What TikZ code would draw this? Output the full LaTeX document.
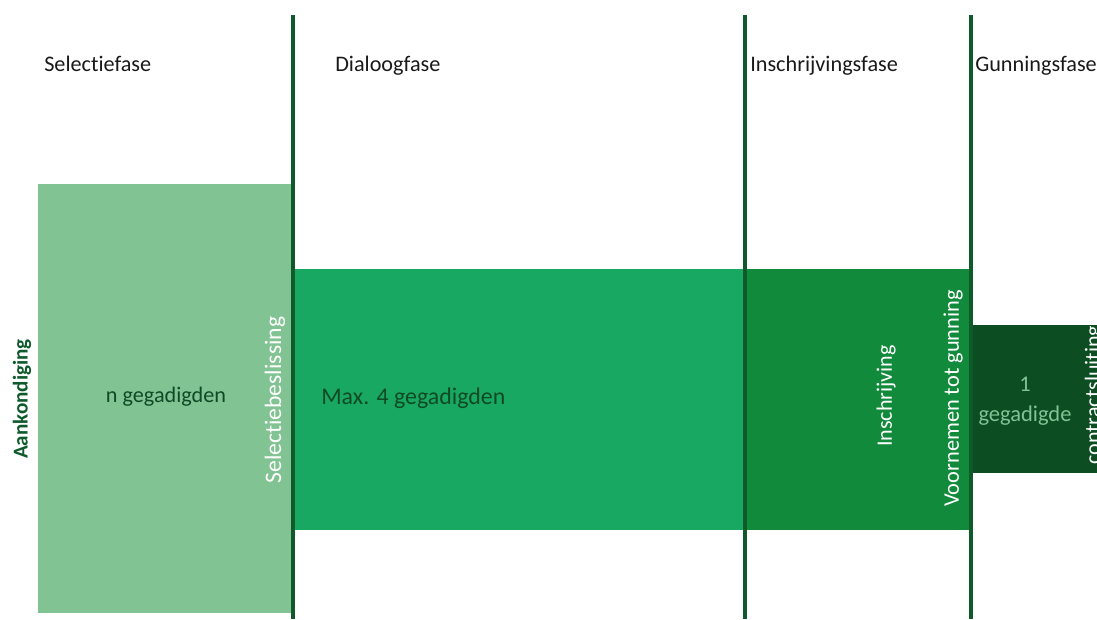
\documentclass[tikz,border=0pt]{standalone}
\usepackage{fontspec}
\setmainfont{Carlito}[Ligatures=NoCommon]
\usetikzlibrary{positioning}
\definecolor{lichtgroen}{HTML}{81C393}
\definecolor{middengroen}{HTML}{19A862}
\definecolor{inschrgroen}{HTML}{128A3C}
\definecolor{donkergroen}{HTML}{0C4E22}
\definecolor{lijngroen}{HTML}{0E5A2B}
\definecolor{tekstgroen}{HTML}{0F4A25}
\tikzset{fasetitel/.style={anchor=base west, font=\fontsize{15.8}{19}\selectfont, text=black!90, inner sep=0pt},
  grens/.style={draw=lijngroen, line width=2.2pt},
  dwars/.style={rotate=90, text=white, font=\fontsize{15.7}{18}\selectfont, inner sep=0pt},
  aantal/.style={text=tekstgroen, inner sep=0pt},
}

\begin{document}
\begin{tikzpicture}[x=0.025cm,y=-0.025cm]
    \useasboundingbox (0,0) rectangle (1097,619);
    % blokken per fase
    \fill[lichtgroen] (38,184) rectangle (293,613);
    \fill[middengroen] (293,269) rectangle (745,530);
    \fill[inschrgroen] (745,269) rectangle (971,530);
    \fill[donkergroen] (971,325) rectangle (1097,473);

    % fasegrenzen
    \coordinate (g1top) at (293,15);
    \coordinate (g1bot) at (293,619);
    \coordinate (g2top) at (745,15);
    \coordinate (g2bot) at (745,619);
    \coordinate (g3top) at (971,15);
    \coordinate (g3bot) at (971,619);
    \draw[grens] (g1top) -- (g1bot);
    \draw[grens] (g2top) -- (g2bot);
    \draw[grens] (g3top) -- (g3bot);

    \node[fasetitel] (selectie) at (44,71) {Selectiefase};
    \node[fasetitel] (dialoog) at (335,71) {Dialoogfase};
    \node[fasetitel] (inschrijving) at (750,71) {Inschrijvingsfase};
    \node[fasetitel] (gunning) at (975,71) {Gunningsfase};

    \node[rotate=90, text=lijngroen, font=\bfseries\fontsize{15}{18}\selectfont, inner sep=0pt] (aankondiging) at (22,399) {Aankondiging};
    \node[aantal, font=\fontsize{15.8}{19}\selectfont] (ngeg) at (166,397) {n gegadigden};
    \node[dwars, font=\fontsize{16.8}{20}\selectfont] (selbesl) at (275,400) {Selectiebeslissing};
    \node[aantal, anchor=west, font=\fontsize{17}{20}\selectfont] (maxgeg) at (321,398) {Max. 4 gegadigden};
    \node[dwars] (inschr) at (886,396) {Inschrijving};
    \node[dwars, font=\fontsize{15.9}{19}\selectfont] (voornemen) at (953,398.5) {Voornemen tot gunning};
    \node[text=lichtgroen, align=center, font=\fontsize{16}{21}\selectfont, inner sep=0pt] (eengeg) at (1025,401) {1\\gegadigde};
    \begin{scope}
        \clip (971,325) rectangle (1097,473);
        \node[dwars, anchor=base west] (contract) at (1100,465) {contractsluiting};
    \end{scope}
\end{tikzpicture}
\end{document}
